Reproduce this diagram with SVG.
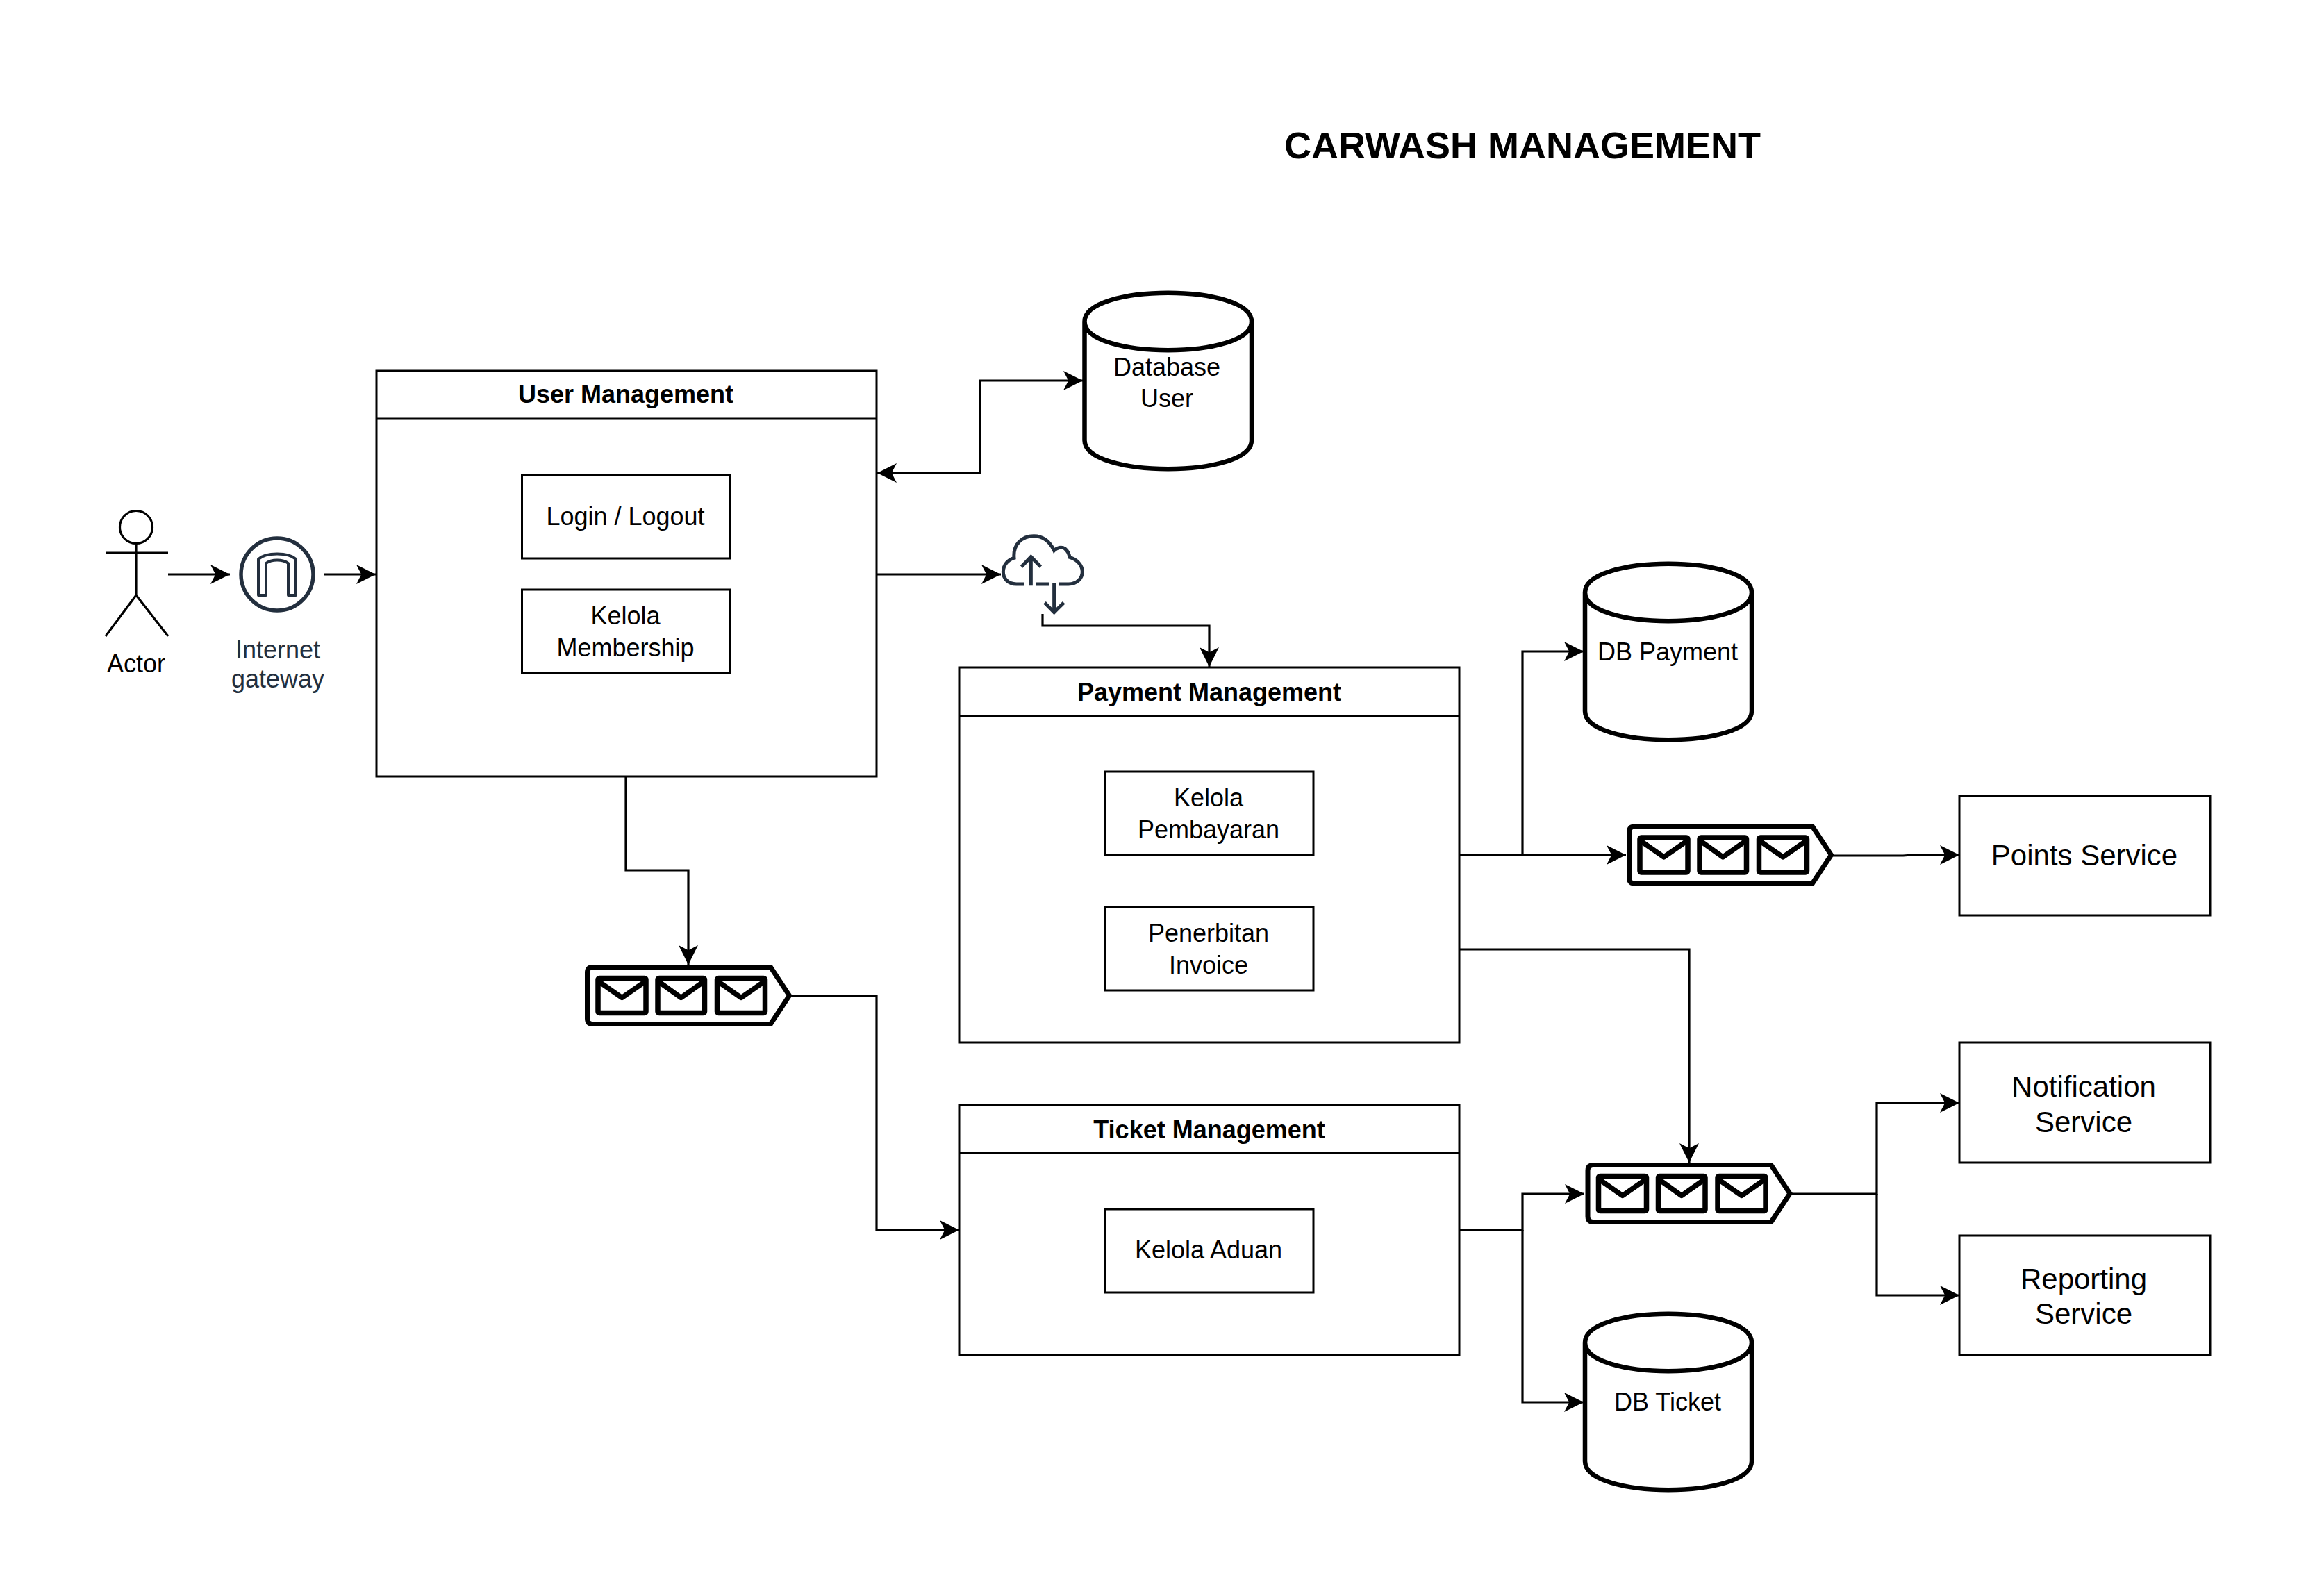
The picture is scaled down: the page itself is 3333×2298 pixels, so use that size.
<svg xmlns="http://www.w3.org/2000/svg" xmlns:xlink="http://www.w3.org/1999/xlink" width="3333" height="2298" viewBox="0 0 3333 2298">
<style>
text{font-family:"Liberation Sans",Arial,sans-serif;fill:#000;text-anchor:middle}
.t{font-size:36px}
.h{font-size:36px;font-weight:bold}
.l{font-size:42px}
.aws{fill:#232f3e}
.box{fill:#fff;stroke:#000;stroke-width:3}
.db{fill:#fff;stroke:#000;stroke-width:6.5}
.con{fill:none;stroke:#000;stroke-width:3.2}
.ic{fill:none;stroke:#232f3e;stroke-width:5}
</style>
<defs>
<marker id="a" markerUnits="userSpaceOnUse" markerWidth="28" markerHeight="28" viewBox="0 0 27 27" refX="27" refY="13.5" orient="auto"><path d="M0,0 L27,13.5 L0,27 L7,13.5Z" fill="#000"/></marker>
<marker id="as" markerUnits="userSpaceOnUse" markerWidth="28" markerHeight="28" viewBox="0 0 27 27" refX="0" refY="13.5" orient="auto"><path d="M27,0 L0,13.5 L27,27 L20,13.5Z" fill="#000"/></marker>
<g id="q">
<path d="M8,0 H264 L291,41 L264,82 H8 Q0,82 0,74 V8 Q0,0 8,0Z" fill="#fff" stroke="#000" stroke-width="7"/>
<g fill="none" stroke="#000" stroke-width="7.5" stroke-linejoin="round">
<rect x="15.5" y="16" width="69" height="50" rx="2"/><path d="M15.5,20 L50,44 L84.5,20"/>
<rect x="101.5" y="16" width="67.5" height="50" rx="2"/><path d="M101.5,20 L135,44 L169,20"/>
<rect x="187" y="16" width="69" height="50" rx="2"/><path d="M187,20 L221.5,44 L256,20"/>
</g>
</g>
</defs>
<rect width="3333" height="2298" fill="#fff"/>
<text x="2192" y="228" font-size="54" font-weight="bold" id="title">CARWASH MANAGEMENT</text>
<g id="connectors" class="con">
<path marker-end="url(#a)" d="M242,827 H331"/>
<path marker-end="url(#a)" d="M467,827 H541"/>
<path marker-end="url(#a)" d="M1262,827 H1441"/>
<path marker-end="url(#a)" d="M1501,884 V901 H1741 V960"/>
<path marker-start="url(#as)" marker-end="url(#a)" d="M1263,681 H1411 V548 H1559"/>
<path marker-end="url(#a)" d="M901,1118 V1253 H991 V1389"/>
<path marker-end="url(#a)" d="M1140,1434 H1262 V1771 H1381"/>
<path marker-end="url(#a)" d="M2101,1231 H2192 V938 H2280"/>
<path marker-end="url(#a)" d="M2101,1231 H2341"/>
<path marker-end="url(#a)" d="M2639,1232 H2740 Q2750,1231 2760,1231 H2821"/>
<path marker-end="url(#a)" d="M2101,1367 H2432 V1674"/>
<path marker-end="url(#a)" d="M2101,1771 H2192 V1719 H2281"/>
<path marker-end="url(#a)" d="M2192,1771 V2019 H2280"/>
<path marker-end="url(#a)" d="M2578,1719 H2702 V1588 H2821"/>
<path marker-end="url(#a)" d="M2702,1719 V1865 H2821"/>
</g>
<g id="actor" fill="none" stroke="#000" stroke-width="3.2">
<circle cx="196" cy="759" r="23.5" fill="#fff"/>
<path d="M196,782.5 V857 M152,796 H242 M152,916 L196,857 L242,916"/>
<text x="196" y="968" class="t" style="font-size:36px" stroke="none">Actor</text>
</g>
<g id="gateway">
<circle cx="399" cy="827" r="52" class="ic" fill="#fff" style="stroke-width:5.5"/>
<path d="M372,857 V805 C383,795 415,795 426,805 V857 H415 V811 C407,805 391,805 383,811 V857Z" fill="none" stroke="#232f3e" stroke-width="4" stroke-linejoin="round"/>
<text x="400" y="948" class="t aws" style="fill:#232f3e">Internet</text>
<text x="400" y="990" class="t" style="fill:#232f3e">gateway</text>
</g>
<g id="cloud">
<g transform="translate(1400,740) scale(0.3333)" fill="none" stroke="#232f3e" stroke-width="15">
<path d="M225,303 H190 C155,303 133,280 133,250 C133,220 155,197 180,190 C175,130 215,95 265,95 C305,95 335,120 353,158 C365,145 385,140 400,150 C412,160 418,175 420,187 C450,195 475,220 475,250 C475,280 450,303 415,303 H375"/>
<path d="M275,303 H330 M253,310 V185 M212,228 L253,185 L295,228 M353,298 V425 M312,383 L353,425 L395,383"/>
</g>
</g>
<g id="user-management">
<rect class="box" x="542" y="534" width="720" height="584"/>
<path class="con" d="M542,603 H1262"/>
<text x="901" y="580" class="h">User Management</text>
</g>
<g id="login"><rect class="box" x="751.5" y="684" width="300" height="120"/><text x="900.5" y="756" class="t">Login / Logout</text></g>
<g id="membership"><rect class="box" x="751.5" y="849" width="300" height="120"/><text x="900.5" y="899" class="t">Kelola</text><text x="900.5" y="945" class="t">Membership</text></g>
<g id="db-user"><path class="db" d="M1561.5,463 V634 C1561.5,689 1802,689 1802,634 V463 C1802,408 1561.5,408 1561.5,463Z M1561.5,463 C1561.5,518 1802,518 1802,463"/><text x="1680" y="541" class="t">Database</text><text x="1680" y="586" class="t">User</text></g>
<g id="payment-management">
<rect class="box" x="1381" y="961" width="720" height="540"/>
<path class="con" d="M1381,1031 H2101"/>
<text x="1741" y="1009" class="h">Payment Management</text>
</g>
<g id="pembayaran"><rect class="box" x="1591" y="1111" width="300" height="120"/><text x="1740" y="1161" class="t">Kelola</text><text x="1740" y="1207" class="t">Pembayaran</text></g>
<g id="invoice"><rect class="box" x="1591" y="1306" width="300" height="120"/><text x="1740" y="1356" class="t">Penerbitan</text><text x="1740" y="1402" class="t">Invoice</text></g>
<g id="ticket-management">
<rect class="box" x="1381" y="1591" width="720" height="360"/>
<path class="con" d="M1381,1660 H2101"/>
<text x="1741" y="1639" class="h">Ticket Management</text>
</g>
<g id="aduan"><rect class="box" x="1591" y="1741" width="300" height="120"/><text x="1740" y="1812" class="t">Kelola Aduan</text></g>
<g id="db-payment"><path class="db" d="M2282,853 V1024 C2282,1079 2522,1079 2522,1024 V853 C2522,798 2282,798 2282,853Z M2282,853 C2282,908 2522,908 2522,853"/><text x="2401" y="951" class="t">DB Payment</text></g>
<g id="db-ticket"><path class="db" d="M2282,1933 V2104 C2282,2159 2522,2159 2522,2104 V1933 C2522,1878 2282,1878 2282,1933Z M2282,1933 C2282,1988 2522,1988 2522,1933"/><text x="2401" y="2031" class="t">DB Ticket</text></g>
<use id="queue-1" xlink:href="#q" href="#q" x="845.5" y="1392.5"/>
<use id="queue-2" xlink:href="#q" href="#q" x="2345.5" y="1190"/>
<use id="queue-3" xlink:href="#q" href="#q" x="2286" y="1677.5"/>
<g id="points"><rect class="box" x="2821" y="1146" width="361" height="172"/><text x="3001" y="1246" class="l">Points Service</text></g>
<g id="notification"><rect class="box" x="2821" y="1501" width="361" height="173"/><text x="3000" y="1579" class="l">Notification</text><text x="3000" y="1630" class="l">Service</text></g>
<g id="reporting"><rect class="box" x="2821" y="1779" width="361" height="172"/><text x="3000" y="1856" class="l">Reporting</text><text x="3000" y="1906" class="l">Service</text></g>
</svg>
